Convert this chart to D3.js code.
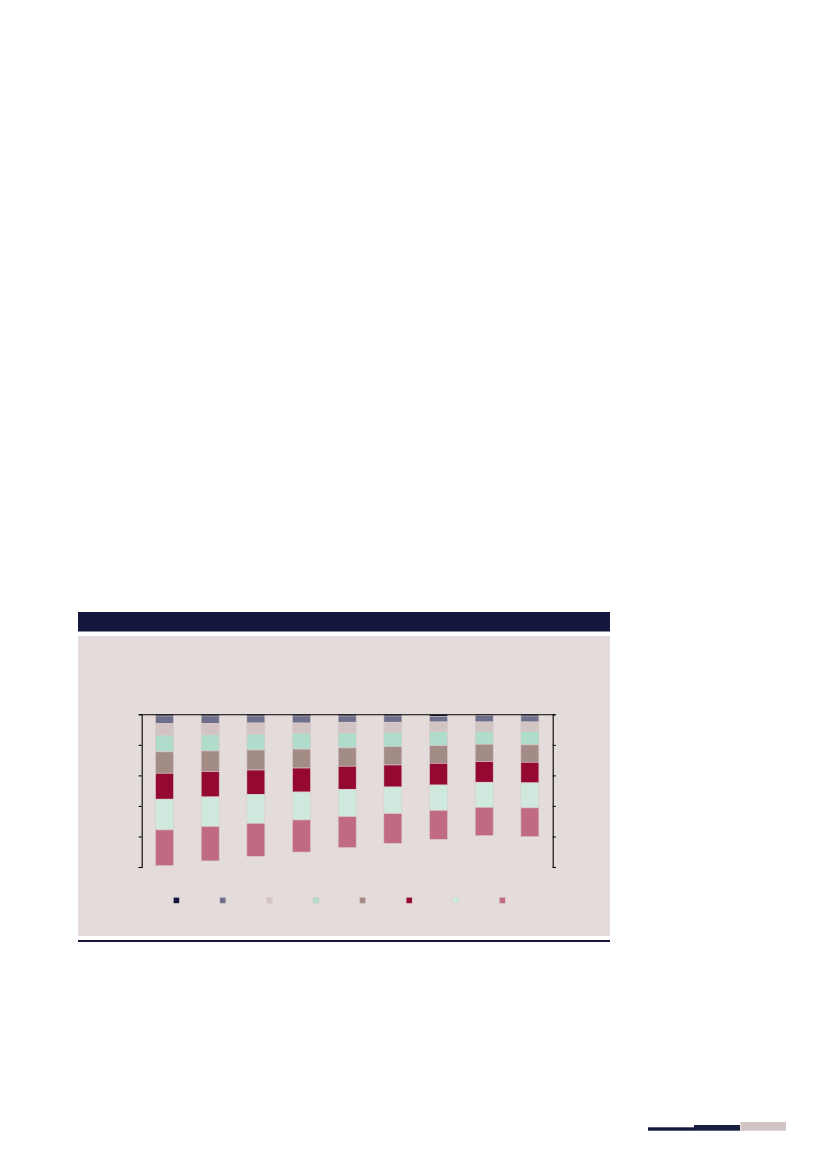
<!DOCTYPE html>
<html>
<head>
<meta charset="utf-8">
<script src="https://cdn.jsdelivr.net/npm/d3@7"></script>
<style>
    body { margin: 0; background: #fff; }
    svg { display: block; }
</style>
</head>
<body>
<div id="chart"></div>
<script>
// data: nine periods, eight stacked series (top of the stack first)
var periods = ["1", "2", "3", "4", "5", "6", "7", "8", "9"];
var seriesKeys = ["s1", "s2", "s3", "s4", "s5", "s6", "s7", "s8"];
var s1 = [1.1, 1.1, 1.1, 1.1, 1.1, 1.1, 1.3, 0.9, 1.1];
var s2 = [5.0, 4.8, 4.6, 4.6, 4.1, 4.1, 3.7, 4.1, 3.9];
var s3 = [7.6, 7.6, 7.2, 6.6, 7.0, 6.6, 6.3, 6.1, 6.1];
var s4 = [10.9, 10.5, 10.5, 10.5, 9.8, 9.4, 9.2, 8.5, 8.9];
var s5 = [14.0, 13.5, 13.1, 12.4, 12.0, 12.0, 11.6, 11.4, 11.4];
var s6 = [17.0, 16.6, 15.9, 15.7, 15.1, 14.4, 14.2, 13.5, 13.5];
var s7 = [20.1, 19.4, 19.0, 18.3, 17.9, 17.5, 16.6, 16.4, 16.4];
var s8 = [23.4, 22.5, 21.6, 21.0, 20.3, 19.4, 19.0, 18.6, 18.8];
var yTicks = [0, 20, 40, 60, 80, 100];

// colours for the series, same order as seriesKeys
const colors = ['#14163d', '#6e6f8a', '#d3c4c4', '#b0dccb', '#a48c86', '#95082f', '#d0e9df', '#c16b82'];

drawPage();

function drawPage() {
    const width = 827;
    const height = 1169;

    const svg = d3.select("#chart").append("svg")
        .attr("width", width)
        .attr("height", height);

    // header bar, panel and bottom rule
    svg.append("rect").attr("x", 78).attr("y", 612).attr("width", 532).attr("height", 19.5).attr("fill", "#14163d");
    svg.append("rect").attr("x", 78).attr("y", 636).attr("width", 532).attr("height", 300).attr("fill", "#e3dcdb");
    svg.append("rect").attr("x", 78).attr("y", 940).attr("width", 532).attr("height", 2).attr("fill", "#14163d");

    // footer marks
    svg.append("rect").attr("x", 648).attr("y", 1127.3).attr("width", 46).attr("height", 3.4).attr("fill", "#14163d");
    svg.append("rect").attr("x", 694).attr("y", 1125).attr("width", 46).attr("height", 5.7).attr("fill", "#1b1c40");
    svg.append("rect").attr("x", 740.5).attr("y", 1122).attr("width", 45.5).attr("height", 8.7).attr("fill", "#d3c4c4");

    // build the table for the stack
    var cols = [s1, s2, s3, s4, s5, s6, s7, s8];
    var table = periods.map(function(p, i) {
        var row = { period: p };
        seriesKeys.forEach(function(k, j) { row[k] = cols[j][i]; });
        return row;
    });

    const left = 141.7, right = 552.7, top = 714.3, bottom = 867;

    const x = d3.scaleBand()
        .domain(periods)
        .range([left, right])
        .paddingInner(0.606)
        .paddingOuter(0.303);

    // zero at the top, stack hangs downwards
    const y = d3.scaleLinear()
        .domain([0, 100])
        .range([top, bottom]);

    const stacked = d3.stack().keys(seriesKeys)(table);

    svg.append("g")
        .selectAll("g")
        .data(stacked)
        .enter()
        .append("g")
        .attr("fill", (d, i) => colors[i])
        .selectAll("rect")
        .data(d => d)
        .enter()
        .append("rect")
        .attr("x", d => x(d.data.period))
        .attr("width", x.bandwidth())
        .attr("y", d => y(d[0]))
        .attr("height", d => y(d[1]) - y(d[0]))
        .attr("stroke", "#d9c9cc")
        .attr("stroke-width", 0.6);

    // axes, no labels
    const gl = svg.append("g")
        .attr("transform", `translate(${left},0)`)
        .call(d3.axisLeft(y).tickValues(yTicks).tickSize(3).tickFormat(""));
    const gr = svg.append("g")
        .attr("transform", `translate(${right},0)`)
        .call(d3.axisRight(y).tickValues(yTicks).tickSize(3).tickFormat(""));
    const gt = svg.append("g")
        .attr("transform", `translate(0,${top})`)
        .call(d3.axisTop(x).tickSize(0).tickSizeOuter(0).tickFormat(""));

    [gl, gr, gt].forEach(function(g) {
        g.selectAll("path, line").attr("stroke", "#000").attr("stroke-width", 1.1);
    });

    // legend swatches
    const legendX = d3.scalePoint()
        .domain(seriesKeys)
        .range([176.3, 502.3]);

    svg.append("g")
        .selectAll("rect")
        .data(seriesKeys)
        .enter()
        .append("rect")
        .attr("x", d => legendX(d) - 3)
        .attr("y", 897.3)
        .attr("width", 6)
        .attr("height", 6)
        .attr("fill", (d, i) => colors[i])
        .attr("stroke", "#d9c9cc")
        .attr("stroke-width", 0.5);
}
</script>
</body>
</html>
